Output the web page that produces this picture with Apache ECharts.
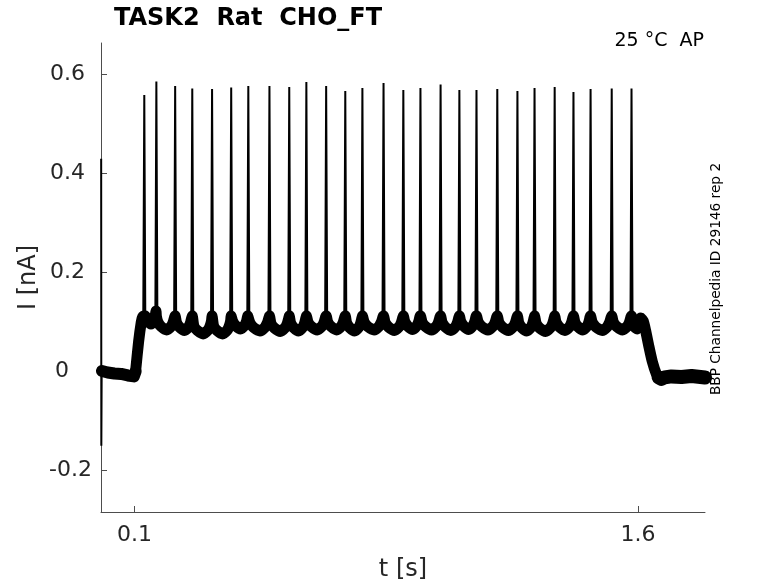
<!DOCTYPE html>
<html>
<head>
<meta charset="utf-8">
<script src="https://cdn.jsdelivr.net/npm/echarts@6/dist/echarts.min.js"></script>
<style>
html,body{margin:0;padding:0;background:#fff;}
#chart{width:778px;height:583px;}
</style>
</head>
<body>
<div id="chart"></div>
<script>
// ---- data ----
const xTicks = [0.1, 1.6];
const yTicks = [-0.2, 0, 0.2, 0.4, 0.6];

// spike times [s] and peak currents [nA]
const spikeT = [0.129, 0.165, 0.221, 0.272, 0.331, 0.388, 0.439, 0.502, 0.561, 0.612,
                0.671, 0.728, 0.779, 0.842, 0.901, 0.952, 1.012, 1.068, 1.119, 1.181,
                1.241, 1.292, 1.352, 1.408, 1.459, 1.522, 1.581];
const spikePeak = [0.559, 0.586, 0.577, 0.572, 0.571, 0.574, 0.577, 0.577, 0.575, 0.585,
                   0.577, 0.567, 0.573, 0.583, 0.569, 0.573, 0.580, 0.569, 0.569, 0.571,
                   0.567, 0.573, 0.575, 0.565, 0.571, 0.572, 0.572];
// inter-spike trough level of the current [nA]
const troughV = [0.096, 0.084, 0.083, 0.076, 0.076, 0.086, 0.082, 0.081, 0.082, 0.084,
                 0.084, 0.082, 0.084, 0.083, 0.085, 0.084, 0.083, 0.085, 0.084, 0.083,
                 0.082, 0.081, 0.083, 0.084, 0.083, 0.084];
// shape of the current between spikes: [fraction of interval, offset from trough]
const isiShape = [[0.08, 0.016], [0.25, 0.007], [0.55, 0.0], [0.78, 0.007], [0.90, 0.016], [0.97, 0.026]];
const spikeBase = 0.112;

// holding current before the step
const preTrace = [[0.003, 0.001], [0.02, -0.002], [0.04, -0.004], [0.06, -0.005], [0.08, -0.008],
                  [0.098, -0.010], [0.103, 0.000]];
const rampTrace = [[0.103, 0.000], [0.112, 0.060], [0.120, 0.100], [0.124, 0.110]];
// end of step
const endTrace = [[1.590, 0.090], [1.598, 0.086], [1.604, 0.095], [1.609, 0.108], [1.616, 0.102], [1.623, 0.083],
                  [1.633, 0.050], [1.643, 0.020], [1.655, -0.005], [1.662, -0.012]];
// tail after the step
const tailTrace = [[1.662, -0.012], [1.67, -0.015], [1.68, -0.012], [1.70, -0.010], [1.73, -0.011],
                   [1.76, -0.009], [1.80, -0.012]];
// capacitive transient at t = 0
const transient = [[0.0005, 0.43], [0.0010, -0.15], [0.0020, 0.0]];

// ---- build series data ----
const step = rampTrace.slice();
for (let i = 0; i < spikeT.length; i++) {
  const t = spikeT[i];
  step.push([t, spikeBase]);
  if (i < troughV.length) {
    const L = spikeT[i + 1] - t;
    isiShape.forEach(p => step.push([t + p[0] * L, troughV[i] + p[1]]));
  }
}
const lastT = spikeT[spikeT.length - 1];
step.push([lastT + 0.004, 0.098]);
endTrace.forEach(p => step.push(p));

const spikes = [];
for (let i = 0; i < spikeT.length; i++) {
  spikes.push([spikeT[i] - 0.003, spikeBase]);
  spikes.push([spikeT[i], spikePeak[i]]);
  spikes.push([spikeT[i] + 0.003, spikeBase]);
  spikes.push([spikeT[i] + 0.003, '-']);
}

const FONT = 'DejaVu Sans';
const labelFont = {fontFamily: FONT, fontSize: 22, color: '#262626'};
const thick = w => ({color: '#000', width: w, join: 'round', cap: 'round'});
const chart = echarts.init(document.getElementById('chart'), null, {renderer: 'canvas'});
chart.setOption({
  animation: false,
  backgroundColor: '#fff',
  title: {
    text: 'TASK2  Rat  CHO_FT',
    left: 114, top: 7, padding: 0,
    textStyle: {fontFamily: FONT, fontSize: 24, fontWeight: 'bold', color: '#000'}
  },
  graphic: [
    {type: 'text', x: 704, y: 41, style: {text: '25 °C  AP', font: '19px "DejaVu Sans"', fill: '#000', align: 'right', verticalAlign: 'middle'}},
    {type: 'text', x: 716, y: 279, rotation: Math.PI / 2,
     style: {text: 'BBP Channelpedia ID 29146 rep 2', font: '13.7px "DejaVu Sans"', fill: '#000', align: 'center', verticalAlign: 'middle'}}
  ],
  grid: {left: 101, right: 73, top: 43, bottom: 71, outerBoundsMode: 'none'},
  xAxis: {
    type: 'value', min: 0, max: 1.8,
    name: 't [s]', nameLocation: 'middle', nameGap: 46, nameMoveOverlap: false,
    nameTextStyle: {fontFamily: FONT, fontSize: 24, color: '#262626'},
    axisLine: {show: true, onZero: false, lineStyle: {color: '#4d4d4d', width: 1}},
    axisTick: {show: true, inside: true, length: 6, customValues: xTicks, lineStyle: {color: '#4d4d4d'}},
    axisLabel: Object.assign({customValues: xTicks, margin: 12, formatter: v => String(v)}, labelFont),
    splitLine: {show: false}
  },
  yAxis: {
    type: 'value', min: -0.284, max: 0.664,
    name: 'I [nA]', nameLocation: 'middle', nameGap: 60, nameMoveOverlap: false,
    nameTextStyle: {fontFamily: FONT, fontSize: 24, color: '#262626'},
    axisLine: {show: true, onZero: false, lineStyle: {color: '#4d4d4d', width: 1}},
    axisTick: {show: true, inside: true, length: 6, customValues: yTicks, lineStyle: {color: '#4d4d4d'}},
    axisLabel: Object.assign({
      customValues: yTicks, margin: 9,
      formatter: v => v === 0 ? '{z|0}' : (v < 0 ? '{n|' + v + '}' : '{p|' + v + '}'),
      rich: {
        z: Object.assign({padding: [0, 23, 0, 0]}, labelFont),
        n: Object.assign({padding: [0, 0, 0, 0]}, labelFont),
        p: Object.assign({padding: [0, 7, 0, 0]}, labelFont)
      }
    }, labelFont),
    splitLine: {show: false}
  },
  series: [
    {type: 'line', data: transient, symbol: 'none', lineStyle: {color: '#000', width: 2}, z: 3},
    {type: 'line', data: preTrace, symbol: 'none', lineStyle: thick(12), z: 2},
    {type: 'line', data: step, symbol: 'none', smooth: 0.2, lineStyle: thick(11), z: 2},
    {type: 'line', data: tailTrace, symbol: 'none', lineStyle: thick(14), z: 2},
    {type: 'line', data: spikes, symbol: 'none', connectNulls: false, lineStyle: {color: '#000', width: 2}, z: 4}
  ]
});
</script>
</body>
</html>
